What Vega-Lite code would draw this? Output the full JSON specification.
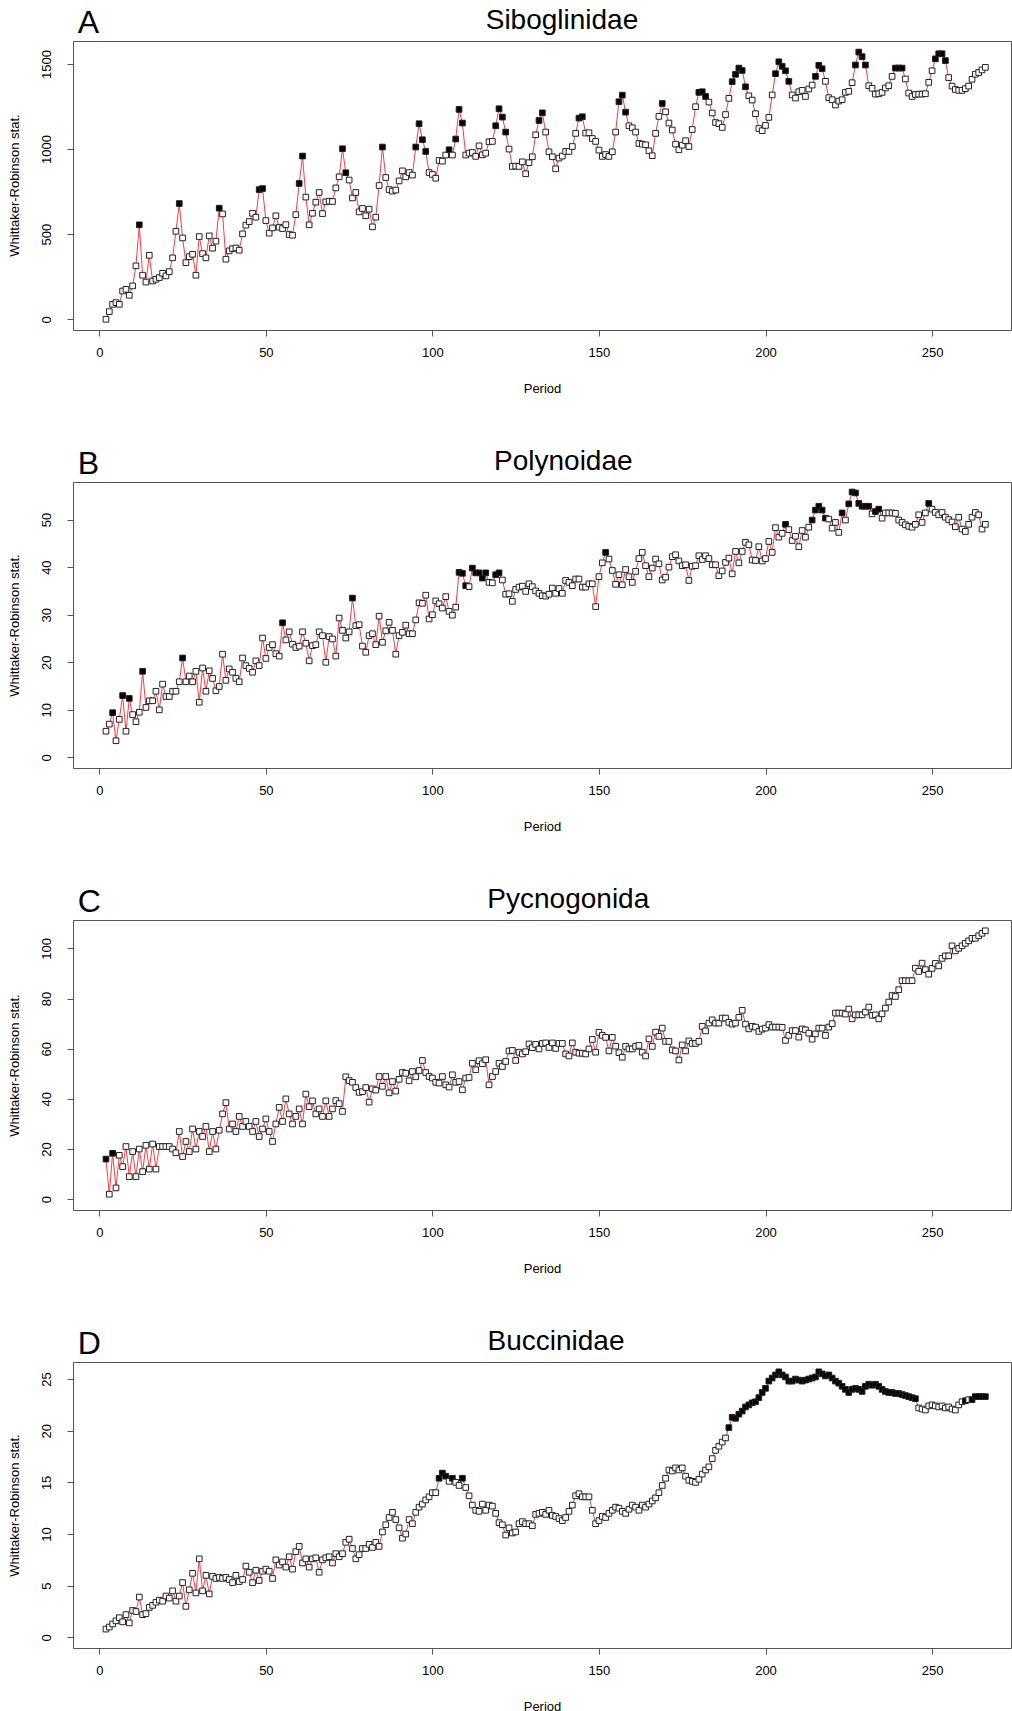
{
"$schema": "https://vega.github.io/schema/vega-lite/v6.json",
"autosize": {"type": "pad"},
"padding": {"left": 7, "top": 6, "right": 0, "bottom": 0},
"bounds": "flush",
"spacing": 152,
"config": {
 "font": "Liberation Sans",
 "view": {"stroke": "#555", "strokeWidth": 1},
 "axis": {"grid": false, "domain": false, "tickColor": "#555", "tickSize": 6, "labelColor": "#000", "titleColor": "#000", "labelFontSize": 13, "titleFontSize": 13, "titleFontWeight": "normal", "labelFont": "Liberation Sans", "titleFont": "Liberation Sans", "labelFlush": false, "labelOverlap": false},
 "axisX": {"labelPadding": 10, "titleY": 58, "titleBaseline": "middle"},
 "axisY": {"labelAngle": -90, "labelAlign": "center", "labelBaseline": "middle", "labelPadding": 21, "titleX": -59, "titleBaseline": "middle", "titleAngle": -90}
},
"datasets": {
"A": [{"p":2,"v":0},{"p":3,"v":45},{"p":4,"v":88},{"p":5,"v":98},{"p":6,"v":88},{"p":7,"v":166},{"p":8,"v":176},{"p":9,"v":141},{"p":10,"v":196},{"p":11,"v":314},{"p":12,"v":555,"f":1},{"p":13,"v":259},{"p":14,"v":219},{"p":15,"v":376},{"p":16,"v":225},{"p":17,"v":235},{"p":18,"v":245},{"p":19,"v":270},{"p":20,"v":255},{"p":21,"v":280},{"p":22,"v":361},{"p":23,"v":517},{"p":24,"v":680,"f":1},{"p":25,"v":478},{"p":26,"v":333},{"p":27,"v":368},{"p":28,"v":382},{"p":29,"v":259},{"p":30,"v":486},{"p":31,"v":386},{"p":32,"v":361},{"p":33,"v":490},{"p":34,"v":418},{"p":35,"v":459},{"p":36,"v":653,"f":1},{"p":37,"v":619},{"p":38,"v":353},{"p":39,"v":402},{"p":40,"v":415},{"p":41,"v":419},{"p":42,"v":406},{"p":43,"v":502},{"p":44,"v":553},{"p":45,"v":574},{"p":46,"v":623},{"p":47,"v":600},{"p":48,"v":762,"f":1},{"p":49,"v":768,"f":1},{"p":50,"v":580},{"p":51,"v":506},{"p":52,"v":537},{"p":53,"v":608},{"p":54,"v":541},{"p":55,"v":533},{"p":56,"v":556},{"p":57,"v":498},{"p":58,"v":494},{"p":59,"v":615},{"p":60,"v":798,"f":1},{"p":61,"v":959,"f":1},{"p":62,"v":718},{"p":63,"v":555},{"p":64,"v":623},{"p":65,"v":688},{"p":66,"v":745},{"p":67,"v":621},{"p":68,"v":690},{"p":69,"v":694},{"p":70,"v":692},{"p":71,"v":772},{"p":72,"v":837},{"p":73,"v":1002,"f":1},{"p":74,"v":861,"f":1},{"p":75,"v":818},{"p":76,"v":713},{"p":77,"v":745},{"p":78,"v":631},{"p":79,"v":651},{"p":80,"v":608},{"p":81,"v":647},{"p":82,"v":543},{"p":83,"v":600},{"p":84,"v":786},{"p":85,"v":1012,"f":1},{"p":86,"v":833},{"p":87,"v":762},{"p":88,"v":753},{"p":89,"v":759},{"p":90,"v":813},{"p":91,"v":872},{"p":92,"v":837},{"p":93,"v":862},{"p":94,"v":847},{"p":95,"v":1012,"f":1},{"p":96,"v":1149,"f":1},{"p":97,"v":1055,"f":1},{"p":98,"v":986,"f":1},{"p":99,"v":862},{"p":100,"v":851},{"p":101,"v":829},{"p":102,"v":933},{"p":103,"v":929},{"p":104,"v":965},{"p":105,"v":996,"f":1},{"p":106,"v":965},{"p":107,"v":1059,"f":1},{"p":108,"v":1233,"f":1},{"p":109,"v":1153,"f":1},{"p":110,"v":965},{"p":111,"v":976},{"p":112,"v":980},{"p":113,"v":957},{"p":114,"v":1019},{"p":115,"v":966},{"p":116,"v":976},{"p":117,"v":1043},{"p":118,"v":1045},{"p":119,"v":1137,"f":1},{"p":120,"v":1237,"f":1},{"p":121,"v":1188,"f":1},{"p":122,"v":1100,"f":1},{"p":123,"v":1000},{"p":124,"v":898},{"p":125,"v":900},{"p":126,"v":898},{"p":127,"v":925},{"p":128,"v":855},{"p":129,"v":920},{"p":130,"v":955},{"p":131,"v":1084},{"p":132,"v":1168,"f":1},{"p":133,"v":1213,"f":1},{"p":134,"v":1100},{"p":135,"v":984},{"p":136,"v":955},{"p":137,"v":884},{"p":138,"v":947},{"p":139,"v":959},{"p":140,"v":986},{"p":141,"v":986},{"p":142,"v":1015},{"p":143,"v":1092},{"p":144,"v":1182,"f":1},{"p":145,"v":1190,"f":1},{"p":146,"v":1094},{"p":147,"v":1096},{"p":148,"v":1062},{"p":149,"v":1045},{"p":150,"v":994},{"p":151,"v":957},{"p":152,"v":968},{"p":153,"v":957},{"p":154,"v":984},{"p":155,"v":1100},{"p":156,"v":1278,"f":1},{"p":157,"v":1317,"f":1},{"p":158,"v":1217,"f":1},{"p":159,"v":1137},{"p":160,"v":1125},{"p":161,"v":1100},{"p":162,"v":1033},{"p":163,"v":1029},{"p":164,"v":1025},{"p":165,"v":990},{"p":166,"v":961},{"p":167,"v":1092},{"p":168,"v":1192},{"p":169,"v":1268,"f":1},{"p":170,"v":1219},{"p":171,"v":1153},{"p":172,"v":1112},{"p":173,"v":1029},{"p":174,"v":996},{"p":175,"v":1023},{"p":176,"v":1049},{"p":177,"v":1015},{"p":178,"v":1115},{"p":179,"v":1249},{"p":180,"v":1333,"f":1},{"p":181,"v":1337,"f":1},{"p":182,"v":1309,"f":1},{"p":183,"v":1276},{"p":184,"v":1212},{"p":185,"v":1156},{"p":186,"v":1149},{"p":187,"v":1127},{"p":188,"v":1203},{"p":189,"v":1298},{"p":190,"v":1396,"f":1},{"p":191,"v":1439,"f":1},{"p":192,"v":1476,"f":1},{"p":193,"v":1462,"f":1},{"p":194,"v":1366,"f":1},{"p":195,"v":1313},{"p":196,"v":1288},{"p":197,"v":1208},{"p":198,"v":1121},{"p":199,"v":1108},{"p":200,"v":1139},{"p":201,"v":1186},{"p":202,"v":1318},{"p":203,"v":1443,"f":1},{"p":204,"v":1513,"f":1},{"p":205,"v":1486,"f":1},{"p":206,"v":1460,"f":1},{"p":207,"v":1398,"f":1},{"p":208,"v":1318},{"p":209,"v":1300},{"p":210,"v":1337},{"p":211,"v":1345},{"p":212,"v":1309},{"p":213,"v":1353},{"p":214,"v":1376},{"p":215,"v":1427,"f":1},{"p":216,"v":1492,"f":1},{"p":217,"v":1472,"f":1},{"p":218,"v":1398},{"p":219,"v":1302},{"p":220,"v":1290},{"p":221,"v":1259},{"p":222,"v":1282},{"p":223,"v":1290},{"p":224,"v":1333},{"p":225,"v":1339},{"p":226,"v":1390},{"p":227,"v":1494,"f":1},{"p":228,"v":1570,"f":1},{"p":229,"v":1543,"f":1},{"p":230,"v":1494,"f":1},{"p":231,"v":1372},{"p":232,"v":1357},{"p":233,"v":1323},{"p":234,"v":1325},{"p":235,"v":1333},{"p":236,"v":1359},{"p":237,"v":1372},{"p":238,"v":1427},{"p":239,"v":1476,"f":1},{"p":240,"v":1476,"f":1},{"p":241,"v":1476,"f":1},{"p":242,"v":1412},{"p":243,"v":1329},{"p":244,"v":1309},{"p":245,"v":1321},{"p":246,"v":1323},{"p":247,"v":1323},{"p":248,"v":1325},{"p":249,"v":1392},{"p":250,"v":1460},{"p":251,"v":1530,"f":1},{"p":252,"v":1560,"f":1},{"p":253,"v":1560,"f":1},{"p":254,"v":1520,"f":1},{"p":255,"v":1420},{"p":256,"v":1370},{"p":257,"v":1350},{"p":258,"v":1345},{"p":259,"v":1345},{"p":260,"v":1355},{"p":261,"v":1370},{"p":262,"v":1410},{"p":263,"v":1440},{"p":264,"v":1450},{"p":265,"v":1465},{"p":266,"v":1480}],
"B": [{"p":2,"v":5.5},{"p":3,"v":7.0},{"p":4,"v":9.4,"f":1},{"p":5,"v":3.5},{"p":6,"v":8.0},{"p":7,"v":13.0,"f":1},{"p":8,"v":5.5},{"p":9,"v":12.4,"f":1},{"p":10,"v":9.0},{"p":11,"v":7.5},{"p":12,"v":9.5},{"p":13,"v":18.1,"f":1},{"p":14,"v":10.5},{"p":15,"v":11.9},{"p":16,"v":11.9},{"p":17,"v":13.9},{"p":18,"v":10.0},{"p":19,"v":15.4},{"p":20,"v":12.8},{"p":21,"v":12.8},{"p":22,"v":13.9},{"p":23,"v":13.9},{"p":24,"v":15.9},{"p":25,"v":20.9,"f":1},{"p":26,"v":15.9},{"p":27,"v":17.1},{"p":28,"v":15.9},{"p":29,"v":18.1},{"p":30,"v":11.6},{"p":31,"v":18.8},{"p":32,"v":13.9},{"p":33,"v":18.2},{"p":34,"v":16.6},{"p":35,"v":14.0},{"p":36,"v":14.9},{"p":37,"v":21.7},{"p":38,"v":16.2},{"p":39,"v":18.6},{"p":40,"v":17.9},{"p":41,"v":16.6},{"p":42,"v":15.9},{"p":43,"v":20.9},{"p":44,"v":19.3},{"p":45,"v":18.7},{"p":46,"v":17.9},{"p":47,"v":20.3},{"p":48,"v":19.3},{"p":49,"v":25.1},{"p":50,"v":20.8},{"p":51,"v":23.1},{"p":52,"v":23.7},{"p":53,"v":21.8},{"p":54,"v":21.3},{"p":55,"v":28.3,"f":1},{"p":56,"v":24.7},{"p":57,"v":26.4},{"p":58,"v":23.8},{"p":59,"v":23.1},{"p":60,"v":23.4},{"p":61,"v":26.4},{"p":62,"v":24.0},{"p":63,"v":20.3},{"p":64,"v":23.5},{"p":65,"v":23.7},{"p":66,"v":26.4},{"p":67,"v":25.6},{"p":68,"v":20.0},{"p":69,"v":25.4},{"p":70,"v":24.9},{"p":71,"v":21.3},{"p":72,"v":29.3},{"p":73,"v":26.7},{"p":74,"v":25.1},{"p":75,"v":26.4},{"p":76,"v":33.5,"f":1},{"p":77,"v":27.7},{"p":78,"v":27.9},{"p":79,"v":23.4},{"p":80,"v":22.1},{"p":81,"v":25.6},{"p":82,"v":26.0},{"p":83,"v":23.7},{"p":84,"v":29.7},{"p":85,"v":24.2},{"p":86,"v":26.6},{"p":87,"v":28.4},{"p":88,"v":26.7},{"p":89,"v":21.7},{"p":90,"v":25.6},{"p":91,"v":26.3},{"p":92,"v":27.8},{"p":93,"v":26.0},{"p":94,"v":26.0},{"p":95,"v":28.9},{"p":96,"v":32.5},{"p":97,"v":32.4},{"p":98,"v":34.1},{"p":99,"v":29.1},{"p":100,"v":30.0},{"p":101,"v":32.9},{"p":102,"v":32.3},{"p":103,"v":31.4},{"p":104,"v":33.8},{"p":105,"v":30.7},{"p":106,"v":29.9},{"p":107,"v":31.6},{"p":108,"v":38.9,"f":1},{"p":109,"v":38.7,"f":1},{"p":110,"v":36.1,"f":1},{"p":111,"v":35.9},{"p":112,"v":39.8,"f":1},{"p":113,"v":38.8,"f":1},{"p":114,"v":38.8,"f":1},{"p":115,"v":37.7,"f":1},{"p":116,"v":38.8,"f":1},{"p":117,"v":36.8},{"p":118,"v":36.7},{"p":119,"v":38.4,"f":1},{"p":120,"v":38.8,"f":1},{"p":121,"v":37.3},{"p":122,"v":34.3},{"p":123,"v":34.4},{"p":124,"v":32.8},{"p":125,"v":35.3},{"p":126,"v":35.8},{"p":127,"v":36.0},{"p":128,"v":34.9},{"p":129,"v":36.5},{"p":130,"v":35.9},{"p":131,"v":35.0},{"p":132,"v":34.5},{"p":133,"v":34.0},{"p":134,"v":33.9},{"p":135,"v":34.3},{"p":136,"v":35.6},{"p":137,"v":34.5},{"p":138,"v":35.5},{"p":139,"v":34.5},{"p":140,"v":37.2},{"p":141,"v":36.8},{"p":142,"v":36.1},{"p":143,"v":37.5},{"p":144,"v":37.5},{"p":145,"v":35.8},{"p":146,"v":35.8},{"p":147,"v":36.5},{"p":148,"v":36.5},{"p":149,"v":31.7},{"p":150,"v":38.0},{"p":151,"v":40.9},{"p":152,"v":43.1,"f":1},{"p":153,"v":41.7},{"p":154,"v":39.3},{"p":155,"v":36.4},{"p":156,"v":38.4},{"p":157,"v":36.3},{"p":158,"v":39.5},{"p":159,"v":38.0},{"p":160,"v":36.8},{"p":161,"v":39.1},{"p":162,"v":41.8},{"p":163,"v":43.1},{"p":164,"v":40.3},{"p":165,"v":38.0},{"p":166,"v":39.8},{"p":167,"v":41.7},{"p":168,"v":40.7},{"p":169,"v":37.3},{"p":170,"v":37.9},{"p":171,"v":40.0},{"p":172,"v":42.2},{"p":173,"v":42.6},{"p":174,"v":41.3},{"p":175,"v":40.3},{"p":176,"v":40.5},{"p":177,"v":37.2},{"p":178,"v":40.2},{"p":179,"v":40.3},{"p":180,"v":42.4},{"p":181,"v":41.6},{"p":182,"v":42.4},{"p":183,"v":41.8},{"p":184,"v":40.5},{"p":185,"v":40.5},{"p":186,"v":38.2},{"p":187,"v":39.2},{"p":188,"v":41.0},{"p":189,"v":41.9},{"p":190,"v":38.6},{"p":191,"v":43.3},{"p":192,"v":40.9},{"p":193,"v":43.3},{"p":194,"v":45.2},{"p":195,"v":44.7},{"p":196,"v":41.5},{"p":197,"v":41.4},{"p":198,"v":44.3},{"p":199,"v":41.3},{"p":200,"v":41.8},{"p":201,"v":45.4},{"p":202,"v":43.1},{"p":203,"v":48.3},{"p":204,"v":46.3},{"p":205,"v":47.1},{"p":206,"v":49.0,"f":1},{"p":207,"v":47.9},{"p":208,"v":45.6},{"p":209,"v":46.5},{"p":210,"v":44.3},{"p":211,"v":47.7},{"p":212,"v":46.3},{"p":213,"v":48.4},{"p":214,"v":49.9,"f":1},{"p":215,"v":52.0,"f":1},{"p":216,"v":52.8,"f":1},{"p":217,"v":52.0,"f":1},{"p":218,"v":50.3,"f":1},{"p":219,"v":50.1},{"p":220,"v":48.2},{"p":221,"v":49.4},{"p":222,"v":47.3},{"p":223,"v":51.4,"f":1},{"p":224,"v":49.9},{"p":225,"v":53.3,"f":1},{"p":226,"v":55.8,"f":1},{"p":227,"v":55.6,"f":1},{"p":228,"v":53.4,"f":1},{"p":229,"v":52.8,"f":1},{"p":230,"v":52.8,"f":1},{"p":231,"v":52.8,"f":1},{"p":232,"v":51.2},{"p":233,"v":51.7,"f":1},{"p":234,"v":52.2,"f":1},{"p":235,"v":50.3},{"p":236,"v":51.4},{"p":237,"v":51.4},{"p":238,"v":51.4},{"p":239,"v":51.3},{"p":240,"v":49.9},{"p":241,"v":49.4},{"p":242,"v":48.9},{"p":243,"v":48.6},{"p":244,"v":48.4},{"p":245,"v":49.0},{"p":246,"v":51.0},{"p":247,"v":49.4},{"p":248,"v":51.4},{"p":249,"v":53.4,"f":1},{"p":250,"v":52.2},{"p":251,"v":51.5},{"p":252,"v":51.0},{"p":253,"v":51.5},{"p":254,"v":50.5},{"p":255,"v":50.0},{"p":256,"v":49.5},{"p":257,"v":48.5},{"p":258,"v":50.5},{"p":259,"v":48.0},{"p":260,"v":47.5},{"p":261,"v":49.0},{"p":262,"v":50.5},{"p":263,"v":51.5},{"p":264,"v":51.0},{"p":265,"v":48.0},{"p":266,"v":49.0}],
"C": [{"p":2,"v":16,"f":1},{"p":3,"v":2},{"p":4,"v":18.3,"f":1},{"p":5,"v":4.5},{"p":6,"v":17.5},{"p":7,"v":13},{"p":8,"v":21},{"p":9,"v":9},{"p":10,"v":19},{"p":11,"v":9},{"p":12,"v":20},{"p":13,"v":11},{"p":14,"v":21.5},{"p":15,"v":12},{"p":16,"v":22},{"p":17,"v":12},{"p":18,"v":21},{"p":19,"v":21},{"p":20,"v":21},{"p":21,"v":21},{"p":22,"v":20},{"p":23,"v":18.5},{"p":24,"v":27},{"p":25,"v":17},{"p":26,"v":23},{"p":27,"v":19},{"p":28,"v":28},{"p":29,"v":20},{"p":30,"v":27},{"p":31,"v":25},{"p":32,"v":29},{"p":33,"v":19},{"p":34,"v":27},{"p":35,"v":20},{"p":36,"v":27.5},{"p":37,"v":34},{"p":38,"v":38.5},{"p":39,"v":28},{"p":40,"v":30},{"p":41,"v":27},{"p":42,"v":33},{"p":43,"v":29},{"p":44,"v":31},{"p":45,"v":29},{"p":46,"v":27},{"p":47,"v":31},{"p":48,"v":25},{"p":49,"v":28},{"p":50,"v":32},{"p":51,"v":27},{"p":52,"v":23},{"p":53,"v":30},{"p":54,"v":36.6},{"p":55,"v":31},{"p":56,"v":40},{"p":57,"v":34},{"p":58,"v":30},{"p":59,"v":33},{"p":60,"v":36},{"p":61,"v":30},{"p":62,"v":41.9},{"p":63,"v":36.9},{"p":64,"v":39.2},{"p":65,"v":34},{"p":66,"v":36},{"p":67,"v":33},{"p":68,"v":39.2},{"p":69,"v":33},{"p":70,"v":36},{"p":71,"v":39.3},{"p":72,"v":38.1},{"p":73,"v":35},{"p":74,"v":48.8},{"p":75,"v":47.3},{"p":76,"v":46.6},{"p":77,"v":44.5},{"p":78,"v":42.6},{"p":79,"v":42.9},{"p":80,"v":44.5},{"p":81,"v":38.7},{"p":82,"v":44.0},{"p":83,"v":43.5},{"p":84,"v":48.9},{"p":85,"v":45.0},{"p":86,"v":48.9},{"p":87,"v":42.4},{"p":88,"v":46.9},{"p":89,"v":43.1},{"p":90,"v":47.8},{"p":91,"v":50.5},{"p":92,"v":50.2},{"p":93,"v":47.2},{"p":94,"v":50.9},{"p":95,"v":48.8},{"p":96,"v":51.3},{"p":97,"v":55.3},{"p":98,"v":50.5},{"p":99,"v":48.9},{"p":100,"v":48.3},{"p":101,"v":46.6},{"p":102,"v":46.3},{"p":103,"v":48.9},{"p":104,"v":45.6},{"p":105,"v":44.7},{"p":106,"v":49.6},{"p":107,"v":46.6},{"p":108,"v":46.9},{"p":109,"v":43.6},{"p":110,"v":48.3},{"p":111,"v":48.5},{"p":112,"v":54.2},{"p":113,"v":51.6},{"p":114,"v":55.2},{"p":115,"v":54.0},{"p":116,"v":55.6},{"p":117,"v":45.6},{"p":118,"v":48.9},{"p":119,"v":50.9},{"p":120,"v":54.2},{"p":121,"v":52.9},{"p":122,"v":54.9},{"p":123,"v":59.1},{"p":124,"v":59.3},{"p":125,"v":55.3},{"p":126,"v":58.6},{"p":127,"v":57.9},{"p":128,"v":58.8},{"p":129,"v":61.9},{"p":130,"v":60.4},{"p":131,"v":61.7},{"p":132,"v":59.9},{"p":133,"v":62.1},{"p":134,"v":62.3},{"p":135,"v":60.5},{"p":136,"v":62.3},{"p":137,"v":60.1},{"p":138,"v":62.1},{"p":139,"v":62.1},{"p":140,"v":57.9},{"p":141,"v":57.1},{"p":142,"v":62.3},{"p":143,"v":58.6},{"p":144,"v":58.2},{"p":145,"v":58.2},{"p":146,"v":57.9},{"p":147,"v":59.9},{"p":148,"v":63.7},{"p":149,"v":58.6},{"p":150,"v":66.5},{"p":151,"v":65.3},{"p":152,"v":64.5},{"p":153,"v":59.1},{"p":154,"v":64.5},{"p":155,"v":61.0},{"p":156,"v":58.4},{"p":157,"v":56.6},{"p":158,"v":60.9},{"p":159,"v":59.9},{"p":160,"v":59.9},{"p":161,"v":60.9},{"p":162,"v":61.3},{"p":163,"v":58.6},{"p":164,"v":57.1},{"p":165,"v":63.9},{"p":166,"v":60.9},{"p":167,"v":66.6},{"p":168,"v":64.9},{"p":169,"v":68.2},{"p":170,"v":62.9},{"p":171,"v":62.9},{"p":172,"v":59.5},{"p":173,"v":59.1},{"p":174,"v":55.5},{"p":175,"v":61.5},{"p":176,"v":59.1},{"p":177,"v":63.1},{"p":178,"v":62.1},{"p":179,"v":62.1},{"p":180,"v":62.9},{"p":181,"v":68.9},{"p":182,"v":67.1},{"p":183,"v":70.2},{"p":184,"v":71.5},{"p":185,"v":70.2},{"p":186,"v":70.2},{"p":187,"v":72.2},{"p":188,"v":72.2},{"p":189,"v":70.5},{"p":190,"v":69.8},{"p":191,"v":70.2},{"p":192,"v":72.5},{"p":193,"v":75.3},{"p":194,"v":69.8},{"p":195,"v":67.9},{"p":196,"v":68.9},{"p":197,"v":68.6},{"p":198,"v":66.9},{"p":199,"v":67.8},{"p":200,"v":68.2},{"p":201,"v":69.6},{"p":202,"v":68.6},{"p":203,"v":68.6},{"p":204,"v":68.6},{"p":205,"v":68.5},{"p":206,"v":63.3},{"p":207,"v":65.3},{"p":208,"v":67.2},{"p":209,"v":67.2},{"p":210,"v":64.6},{"p":211,"v":67.9},{"p":212,"v":67.5},{"p":213,"v":66.2},{"p":214,"v":63.8},{"p":215,"v":65.9},{"p":216,"v":68.2},{"p":217,"v":68.2},{"p":218,"v":65.3},{"p":219,"v":68.6},{"p":220,"v":70.0},{"p":221,"v":74.2},{"p":222,"v":74.2},{"p":223,"v":74.2},{"p":224,"v":73.8},{"p":225,"v":75.8},{"p":226,"v":71.9},{"p":227,"v":73.5},{"p":228,"v":73.5},{"p":229,"v":73.5},{"p":230,"v":74.6},{"p":231,"v":76.6},{"p":232,"v":73.3},{"p":233,"v":73.5},{"p":234,"v":71.9},{"p":235,"v":73.9},{"p":236,"v":76.2},{"p":237,"v":78.6},{"p":238,"v":81.2},{"p":239,"v":80.8},{"p":240,"v":83.5},{"p":241,"v":87.1},{"p":242,"v":87.1},{"p":243,"v":87.1},{"p":244,"v":87.1},{"p":245,"v":92.1},{"p":246,"v":90.8},{"p":247,"v":94.1},{"p":248,"v":91.5},{"p":249,"v":89.7},{"p":250,"v":92},{"p":251,"v":94},{"p":252,"v":93},{"p":253,"v":96},{"p":254,"v":97},{"p":255,"v":97},{"p":256,"v":101},{"p":257,"v":99},{"p":258,"v":100},{"p":259,"v":101},{"p":260,"v":102},{"p":261,"v":103},{"p":262,"v":104},{"p":263,"v":104},{"p":264,"v":105},{"p":265,"v":106},{"p":266,"v":107}],
"D": [{"p":2,"v":0.8},{"p":3,"v":1.0},{"p":4,"v":1.3},{"p":5,"v":1.6},{"p":6,"v":1.9},{"p":7,"v":1.5},{"p":8,"v":2.2},{"p":9,"v":1.4},{"p":10,"v":2.6},{"p":11,"v":2.5},{"p":12,"v":3.9},{"p":13,"v":2.2},{"p":14,"v":2.3},{"p":15,"v":2.9},{"p":16,"v":3.1},{"p":17,"v":3.4},{"p":18,"v":3.6},{"p":19,"v":3.5},{"p":20,"v":4.0},{"p":21,"v":3.8},{"p":22,"v":4.5},{"p":23,"v":3.5},{"p":24,"v":4.0},{"p":25,"v":5.3},{"p":26,"v":3.0},{"p":27,"v":4.6},{"p":28,"v":6.2},{"p":29,"v":4.3},{"p":30,"v":7.6},{"p":31,"v":4.5},{"p":32,"v":6.0},{"p":33,"v":4.2},{"p":34,"v":5.9},{"p":35,"v":5.7},{"p":36,"v":5.8},{"p":37,"v":5.7},{"p":38,"v":5.8},{"p":39,"v":5.6},{"p":40,"v":5.3},{"p":41,"v":6.0},{"p":42,"v":5.4},{"p":43,"v":5.6},{"p":44,"v":6.9},{"p":45,"v":6.3},{"p":46,"v":5.3},{"p":47,"v":6.5},{"p":48,"v":5.5},{"p":49,"v":6.4},{"p":50,"v":6.6},{"p":51,"v":6.4},{"p":52,"v":5.7},{"p":53,"v":7.5},{"p":54,"v":7.0},{"p":55,"v":7.3},{"p":56,"v":6.8},{"p":57,"v":7.8},{"p":58,"v":6.6},{"p":59,"v":8.3},{"p":60,"v":8.8},{"p":61,"v":7.2},{"p":62,"v":7.6},{"p":63,"v":6.8},{"p":64,"v":7.6},{"p":65,"v":7.7},{"p":66,"v":6.3},{"p":67,"v":7.5},{"p":68,"v":7.7},{"p":69,"v":7.8},{"p":70,"v":7.2},{"p":71,"v":8.1},{"p":72,"v":7.8},{"p":73,"v":8.1},{"p":74,"v":9.2},{"p":75,"v":9.5},{"p":76,"v":8.6},{"p":77,"v":7.6},{"p":78,"v":8.0},{"p":79,"v":8.6},{"p":80,"v":8.6},{"p":81,"v":9.0},{"p":82,"v":8.7},{"p":83,"v":9.2},{"p":84,"v":8.8},{"p":85,"v":10.2},{"p":86,"v":10.9},{"p":87,"v":11.6},{"p":88,"v":12.1},{"p":89,"v":11.4},{"p":90,"v":10.6},{"p":91,"v":9.6},{"p":92,"v":10.0},{"p":93,"v":11.4},{"p":94,"v":11.0},{"p":95,"v":12.1},{"p":96,"v":12.6},{"p":97,"v":12.9},{"p":98,"v":13.3},{"p":99,"v":13.6},{"p":100,"v":14.0},{"p":101,"v":14.0},{"p":102,"v":15.4,"f":1},{"p":103,"v":15.9,"f":1},{"p":104,"v":15.6,"f":1},{"p":105,"v":15.1},{"p":106,"v":15.4,"f":1},{"p":107,"v":15.0},{"p":108,"v":14.7},{"p":109,"v":15.4,"f":1},{"p":110,"v":14.5},{"p":111,"v":13.7},{"p":112,"v":12.8},{"p":113,"v":12.3},{"p":114,"v":12.2},{"p":115,"v":12.9},{"p":116,"v":12.3},{"p":117,"v":12.8},{"p":118,"v":12.7},{"p":119,"v":12.0},{"p":120,"v":11.1},{"p":121,"v":10.9},{"p":122,"v":9.9},{"p":123,"v":10.6},{"p":124,"v":10.1},{"p":125,"v":10.2},{"p":126,"v":11.0},{"p":127,"v":11.2},{"p":128,"v":11.0},{"p":129,"v":11.0},{"p":130,"v":10.8},{"p":131,"v":11.9},{"p":132,"v":12.0},{"p":133,"v":12.1},{"p":134,"v":11.9},{"p":135,"v":12.3},{"p":136,"v":11.8},{"p":137,"v":11.7},{"p":138,"v":11.5},{"p":139,"v":11.3},{"p":140,"v":11.6},{"p":141,"v":12.2},{"p":142,"v":12.8},{"p":143,"v":13.7},{"p":144,"v":13.9},{"p":145,"v":13.6},{"p":146,"v":13.6},{"p":147,"v":13.6},{"p":148,"v":12.3},{"p":149,"v":11.0},{"p":150,"v":11.3},{"p":151,"v":11.7},{"p":152,"v":11.6},{"p":153,"v":12.0},{"p":154,"v":12.3},{"p":155,"v":12.6},{"p":156,"v":12.5},{"p":157,"v":12.2},{"p":158,"v":12.0},{"p":159,"v":12.4},{"p":160,"v":12.8},{"p":161,"v":12.6},{"p":162,"v":12.3},{"p":163,"v":12.8},{"p":164,"v":12.6},{"p":165,"v":12.9},{"p":166,"v":13.2},{"p":167,"v":13.5},{"p":168,"v":14.0},{"p":169,"v":14.7},{"p":170,"v":15.4},{"p":171,"v":16.2},{"p":172,"v":16.1},{"p":173,"v":16.4},{"p":174,"v":16.2},{"p":175,"v":16.4},{"p":176,"v":15.6},{"p":177,"v":15.2},{"p":178,"v":15.1},{"p":179,"v":15.0},{"p":180,"v":15.3},{"p":181,"v":15.8},{"p":182,"v":16.2},{"p":183,"v":16.5},{"p":184,"v":17.3},{"p":185,"v":18.1},{"p":186,"v":18.5},{"p":187,"v":18.9},{"p":188,"v":19.3},{"p":189,"v":20.3,"f":1},{"p":190,"v":21.3,"f":1},{"p":191,"v":21.2,"f":1},{"p":192,"v":21.6,"f":1},{"p":193,"v":21.9,"f":1},{"p":194,"v":22.3,"f":1},{"p":195,"v":22.5,"f":1},{"p":196,"v":22.7,"f":1},{"p":197,"v":22.8,"f":1},{"p":198,"v":23.2,"f":1},{"p":199,"v":23.7,"f":1},{"p":200,"v":24.1,"f":1},{"p":201,"v":24.8,"f":1},{"p":202,"v":25.1,"f":1},{"p":203,"v":25.4,"f":1},{"p":204,"v":25.7,"f":1},{"p":205,"v":25.4,"f":1},{"p":206,"v":25.2,"f":1},{"p":207,"v":24.8,"f":1},{"p":208,"v":24.8,"f":1},{"p":209,"v":25.0,"f":1},{"p":210,"v":24.9,"f":1},{"p":211,"v":24.8,"f":1},{"p":212,"v":24.9,"f":1},{"p":213,"v":25.0,"f":1},{"p":214,"v":25.1,"f":1},{"p":215,"v":25.2,"f":1},{"p":216,"v":25.7,"f":1},{"p":217,"v":25.5,"f":1},{"p":218,"v":25.3,"f":1},{"p":219,"v":25.4,"f":1},{"p":220,"v":25.1,"f":1},{"p":221,"v":24.8,"f":1},{"p":222,"v":24.6,"f":1},{"p":223,"v":24.3,"f":1},{"p":224,"v":24.0,"f":1},{"p":225,"v":23.7,"f":1},{"p":226,"v":24.0,"f":1},{"p":227,"v":24.1,"f":1},{"p":228,"v":24.0,"f":1},{"p":229,"v":23.8,"f":1},{"p":230,"v":24.3,"f":1},{"p":231,"v":24.5,"f":1},{"p":232,"v":24.4,"f":1},{"p":233,"v":24.5,"f":1},{"p":234,"v":24.3,"f":1},{"p":235,"v":24.0,"f":1},{"p":236,"v":23.8,"f":1},{"p":237,"v":23.7,"f":1},{"p":238,"v":23.7,"f":1},{"p":239,"v":23.6,"f":1},{"p":240,"v":23.6,"f":1},{"p":241,"v":23.5,"f":1},{"p":242,"v":23.4,"f":1},{"p":243,"v":23.3,"f":1},{"p":244,"v":23.2,"f":1},{"p":245,"v":23.1,"f":1},{"p":246,"v":22.2},{"p":247,"v":22.1},{"p":248,"v":22.0},{"p":249,"v":22.4},{"p":250,"v":22.5},{"p":251,"v":22.4},{"p":252,"v":22.3},{"p":253,"v":22.4},{"p":254,"v":22.2},{"p":255,"v":22.3},{"p":256,"v":22.1},{"p":257,"v":22.0},{"p":258,"v":22.5},{"p":259,"v":22.8},{"p":260,"v":22.9,"f":1},{"p":261,"v":23.0},{"p":262,"v":23.0,"f":1},{"p":263,"v":23.3,"f":1},{"p":264,"v":23.3,"f":1},{"p":265,"v":23.3,"f":1},{"p":266,"v":23.3,"f":1}]
},
"vconcat": [
{
 "width": 938, "height": 289,
 "layer": [
  {"data": {"name": "A"}, "mark": {"type": "line", "color": "#ff3b3b", "strokeWidth": 1},
   "encoding": {"x": {"field": "p", "type": "quantitative", "scale": {"domain": [-7.9, 273.7], "nice": false, "zero": false}, "axis": {"title": "Period", "values": [0,50,100,150,200,250]}},
    "y": {"field": "v", "type": "quantitative", "scale": {"domain": [-62.9, 1635], "nice": false, "zero": false}, "axis": {"title": "Whittaker-Robinson stat.", "values": [0,500,1000,1500], "format": "d", "titleY": 144}}}},
  {"data": {"name": "A"}, "mark": {"type": "point", "shape": "square", "size": 32, "filled": true, "stroke": "#222", "strokeWidth": 1, "opacity": 1},
   "encoding": {"x": {"field": "p", "type": "quantitative"}, "y": {"field": "v", "type": "quantitative"}, "fill": {"condition": {"test": "datum.f", "value": "black"}, "value": "white"}}},
  {"data": {"values": [{"t": "A"}]}, "mark": {"type": "text", "fontSize": 32, "align": "left", "baseline": "alphabetic", "color": "black"},
   "encoding": {"x": {"datum": -6.5}, "y": {"datum": 1684}, "text": {"field": "t"}}},
  {"data": {"values": [{"t": "Siboglinidae"}]}, "mark": {"type": "text", "fontSize": 28, "align": "center", "baseline": "alphabetic", "color": "black"},
   "encoding": {"x": {"datum": 138.9}, "y": {"datum": 1705}, "text": {"field": "t"}}}
 ]
},
{
 "width": 938, "height": 286,
 "layer": [
  {"data": {"name": "B"}, "mark": {"type": "line", "color": "#ff3b3b", "strokeWidth": 1},
   "encoding": {"x": {"field": "p", "type": "quantitative", "scale": {"domain": [-7.9, 273.7], "nice": false, "zero": false}, "axis": {"title": "Period", "values": [0,50,100,150,200,250]}},
    "y": {"field": "v", "type": "quantitative", "scale": {"domain": [-2.23, 57.9], "nice": false, "zero": false}, "axis": {"title": "Whittaker-Robinson stat.", "values": [0,10,20,30,40,50], "format": "d", "titleY": 143}}}},
  {"data": {"name": "B"}, "mark": {"type": "point", "shape": "square", "size": 32, "filled": true, "stroke": "#222", "strokeWidth": 1, "opacity": 1},
   "encoding": {"x": {"field": "p", "type": "quantitative"}, "y": {"field": "v", "type": "quantitative"}, "fill": {"condition": {"test": "datum.f", "value": "black"}, "value": "white"}}},
  {"data": {"values": [{"t": "B"}]}, "mark": {"type": "text", "fontSize": 32, "align": "left", "baseline": "alphabetic", "color": "black"},
   "encoding": {"x": {"datum": -6.5}, "y": {"datum": 59.64}, "text": {"field": "t"}}},
  {"data": {"values": [{"t": "Polynoidae"}]}, "mark": {"type": "text", "fontSize": 28, "align": "center", "baseline": "alphabetic", "color": "black"},
   "encoding": {"x": {"datum": 139.3}, "y": {"datum": 60.42}, "text": {"field": "t"}}}
 ]
},
{
 "width": 938, "height": 290,
 "layer": [
  {"data": {"name": "C"}, "mark": {"type": "line", "color": "#ff3b3b", "strokeWidth": 1},
   "encoding": {"x": {"field": "p", "type": "quantitative", "scale": {"domain": [-7.9, 273.7], "nice": false, "zero": false}, "axis": {"title": "Period", "values": [0,50,100,150,200,250]}},
    "y": {"field": "v", "type": "quantitative", "scale": {"domain": [-4.3, 111.3], "nice": false, "zero": false}, "axis": {"title": "Whittaker-Robinson stat.", "values": [0,20,40,60,80,100], "format": "d", "titleY": 145}}}},
  {"data": {"name": "C"}, "mark": {"type": "point", "shape": "square", "size": 32, "filled": true, "stroke": "#222", "strokeWidth": 1, "opacity": 1},
   "encoding": {"x": {"field": "p", "type": "quantitative"}, "y": {"field": "v", "type": "quantitative"}, "fill": {"condition": {"test": "datum.f", "value": "black"}, "value": "white"}}},
  {"data": {"values": [{"t": "C"}]}, "mark": {"type": "text", "fontSize": 32, "align": "left", "baseline": "alphabetic", "color": "black"},
   "encoding": {"x": {"datum": -6.5}, "y": {"datum": 114.61}, "text": {"field": "t"}}},
  {"data": {"values": [{"t": "Pycnogonida"}]}, "mark": {"type": "text", "fontSize": 28, "align": "center", "baseline": "alphabetic", "color": "black"},
   "encoding": {"x": {"datum": 140.8}, "y": {"datum": 116.2}, "text": {"field": "t"}}}
 ]
},
{
 "width": 938, "height": 286,
 "layer": [
  {"data": {"name": "D"}, "mark": {"type": "line", "color": "#ff3b3b", "strokeWidth": 1},
   "encoding": {"x": {"field": "p", "type": "quantitative", "scale": {"domain": [-7.9, 273.7], "nice": false, "zero": false}, "axis": {"title": "Period", "values": [0,50,100,150,200,250]}},
    "y": {"field": "v", "type": "quantitative", "scale": {"domain": [-1.03, 26.65], "nice": false, "zero": false}, "axis": {"title": "Whittaker-Robinson stat.", "values": [0,5,10,15,20,25], "format": "d", "titleY": 143}}}},
  {"data": {"name": "D"}, "mark": {"type": "point", "shape": "square", "size": 32, "filled": true, "stroke": "#222", "strokeWidth": 1, "opacity": 1},
   "encoding": {"x": {"field": "p", "type": "quantitative"}, "y": {"field": "v", "type": "quantitative"}, "fill": {"condition": {"test": "datum.f", "value": "black"}, "value": "white"}}},
  {"data": {"values": [{"t": "D"}]}, "mark": {"type": "text", "fontSize": 32, "align": "left", "baseline": "alphabetic", "color": "black"},
   "encoding": {"x": {"datum": -6.5}, "y": {"datum": 27.45}, "text": {"field": "t"}}},
  {"data": {"values": [{"t": "Buccinidae"}]}, "mark": {"type": "text", "fontSize": 28, "align": "center", "baseline": "alphabetic", "color": "black"},
   "encoding": {"x": {"datum": 137.1}, "y": {"datum": 27.81}, "text": {"field": "t"}}}
 ]
}
]
}
